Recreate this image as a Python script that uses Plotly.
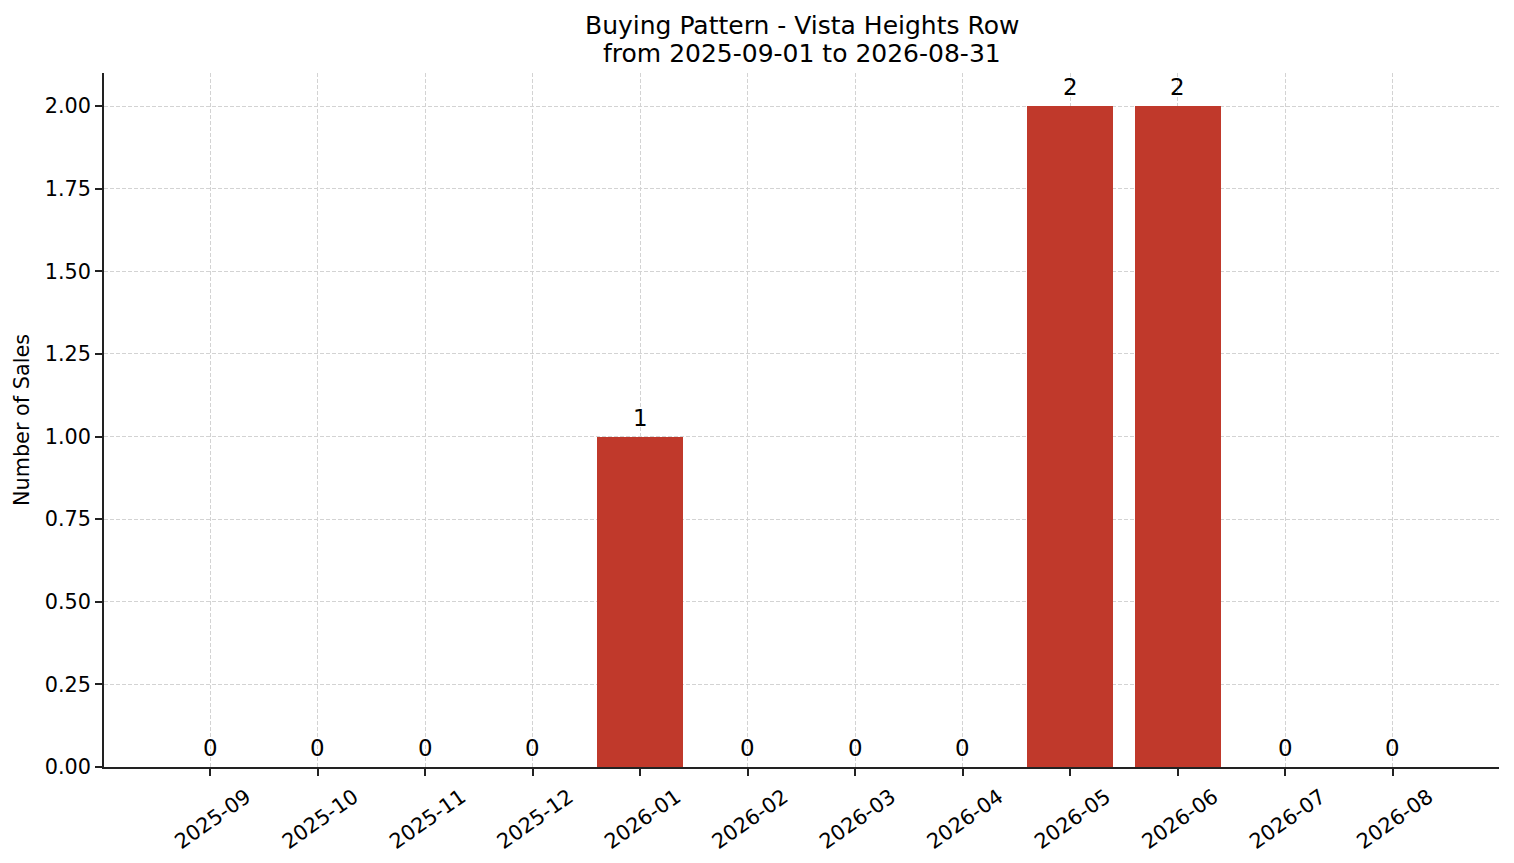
import plotly.graph_objects as go

months = ['2025-09', '2025-10', '2025-11', '2025-12', '2026-01', '2026-02',
          '2026-03', '2026-04', '2026-05', '2026-06', '2026-07', '2026-08']
sales = [0, 0, 0, 0, 1, 0, 0, 0, 2, 2, 0, 0]
y_ticks = [0, 0.25, 0.5, 0.75, 1.0, 1.25, 1.5, 1.75, 2.0]
title_lines = ['Buying Pattern - Vista Heights Row', 'from 2025-09-01 to 2026-08-31']

bar_color = '#c0392b'
font_family = 'DejaVu Sans'

fig = go.Figure(
    data=go.Bar(x=months, y=sales, width=0.8,
                marker=dict(color=bar_color, line=dict(width=0)))
)

# value labels above each bar
for m, v in zip(months, sales):
    fig.add_annotation(x=m, y=v, text=str(v), showarrow=False,
                       xref='x', yref='y', yanchor='bottom', yshift=4,
                       font=dict(family=font_family, size=22.9, color='black'))

# two-line title, matplotlib-like tight line spacing
for line, shift in zip(title_lines, [48, 20]):
    fig.add_annotation(text=line, xref='paper', yref='paper', x=0.5, y=1,
                       yanchor='middle', yshift=shift, showarrow=False,
                       font=dict(family=font_family, size=25, color='black'))

# page body has an 8px margin, so the figure is a bit smaller than the window
fig.update_layout(
    width=1506, height=855,
    margin=dict(l=96, r=15, t=65, b=96),
    plot_bgcolor='white', paper_bgcolor='white',
    font=dict(family=font_family, size=20.8, color='black'),
    showlegend=False,
    bargap=0,
    xaxis=dict(
        type='category', range=[-0.99, 11.99], automargin=False,
        showline=True, linecolor='#222', linewidth=1.7,
        ticks='outside', ticklen=7, tickwidth=1.7, tickcolor='#222',
        tickangle=-35, ticklabelshift=36, ticklabelstandoff=1,
        showgrid=True, gridcolor='#d3d3d3', gridwidth=1, griddash='4px,2px',
        layer='above traces', zeroline=False,
    ),
    yaxis=dict(
        range=[0, 2.1], tickvals=y_ticks, tickformat='.2f', automargin=False,
        showline=True, linecolor='#222', linewidth=1.7,
        ticks='outside', ticklen=7, tickwidth=1.7, tickcolor='#222',
        showgrid=True, gridcolor='#d3d3d3', gridwidth=1, griddash='4px,2px',
        layer='above traces', zeroline=False,
        title=dict(text='Number of Sales', standoff=9,
                   font=dict(family=font_family, size=20.8)),
    ),
)

fig.write_html('out.html')
